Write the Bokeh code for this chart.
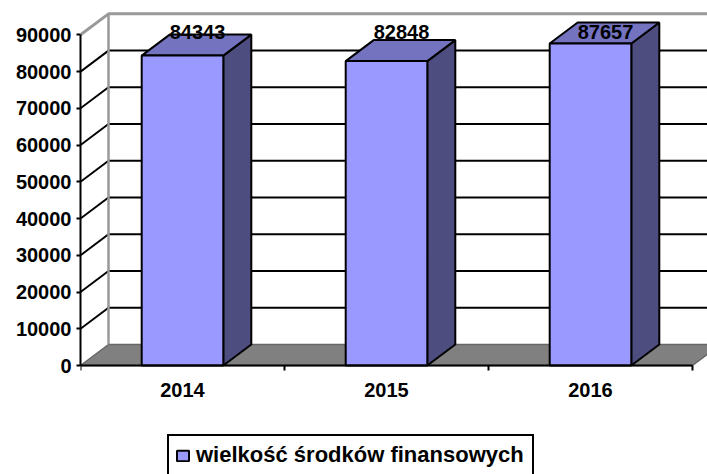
from bokeh.plotting import figure
from bokeh.models import Range1d, FixedTicker, Legend, LegendItem
from bokeh.core.properties import value
from bokeh.embed import file_html
from bokeh.resources import INLINE

# ---- data ----
categories = ["2014", "2015", "2016"]
values = [84343, 82848, 87657]
y_ticks = [0, 10000, 20000, 30000, 40000, 50000, 60000, 70000, 80000, 90000]
series_name = "wielkość środków finansowych"

# ---- style / geometry ----
FONT = "Liberation Sans"
px_per_x = 204.0                 # pixels per category band
px_per_y = 36.74 / 10000.0       # pixels per value unit
depth_dx = 28 / px_per_x         # 3D depth offset in data units
depth_dy = 21 / px_per_y
bar_w = 0.4
front_col = "#9999FF"
top_col = "#7373C0"
side_col = "#4D4D80"
floor_col = "#808080"
wall_edge = "#999999"

W, H = 707, 474
left_b = 80
zero_px = 365                    # pixel row of the value 0 line
frame_w = W - left_b

p = figure(width=W, height=H, output_backend="svg", toolbar_location=None,
           x_range=Range1d(0, frame_w / px_per_x),
           y_range=Range1d(-(H - zero_px) / px_per_y, zero_px / px_per_y),
           min_border_left=left_b, min_border_right=0, min_border_top=0,
           min_border_bottom=0)
p.outline_line_color = None
p.grid.visible = False
p.background_fill_color = "white"
p.border_fill_color = "white"

n = len(categories)
top_v = y_ticks[-1]

# floor
p.patch([0, n, n + depth_dx, depth_dx], [0, 0, depth_dy, depth_dy],
        fill_color=floor_col, line_color="#666666", line_width=1.5)

# back wall gridlines
gx0, gx1, gy = [], [], []
for v in y_ticks[1:-1]:
    gx0.append(depth_dx); gx1.append(n + depth_dx); gy.append(v + depth_dy)
p.segment(x0=gx0, y0=gy, x1=gx1, y1=gy, line_color="black", line_width=2)
# left wall diagonals
p.segment(x0=[0] * (len(y_ticks) - 2), y0=y_ticks[1:-1],
          x1=[depth_dx] * (len(y_ticks) - 2), y1=[v + depth_dy for v in y_ticks[1:-1]],
          line_color="black", line_width=2)
# wall frame edges (gray)
p.line([0, depth_dx, n + depth_dx], [top_v, top_v + depth_dy, top_v + depth_dy],
       line_color=wall_edge, line_width=3)
p.line([depth_dx, depth_dx], [depth_dy, top_v + depth_dy], line_color=wall_edge, line_width=2.5)

# bars
centers = [i + 0.5 for i in range(n)]
side_xs, side_ys, topf_xs, topf_ys = [], [], [], []
for c, v in zip(centers, values):
    r = c + bar_w / 2
    l = c - bar_w / 2
    side_xs.append([r, r + depth_dx, r + depth_dx, r])
    side_ys.append([0, depth_dy, v + depth_dy, v])
    topf_xs.append([l, l + depth_dx, r + depth_dx, r])
    topf_ys.append([v, v + depth_dy, v + depth_dy, v])
p.patches(side_xs, side_ys, fill_color=side_col, line_color="black", line_width=2)
p.patches(topf_xs, topf_ys, fill_color=top_col, line_color="black", line_width=2)
front = p.quad(left=[c - bar_w / 2 for c in centers], right=[c + bar_w / 2 for c in centers],
               bottom=[0] * n, top=values, fill_color=front_col, line_color="black", line_width=2)

# data labels
p.text(x=centers, y=[top_v] * n, text=[str(v) for v in values],
       x_offset=15, y_offset=-3, text_align="center", text_baseline="middle",
       text_font=value(FONT), text_font_style="bold", text_font_size="20px",
       text_color="black")

# axes
p.yaxis.ticker = FixedTicker(ticks=y_ticks)
p.yaxis.bounds = (0, top_v)
p.yaxis.axis_line_color = "black"
p.yaxis.axis_line_width = 2
p.yaxis.major_tick_line_color = "black"
p.yaxis.major_tick_line_width = 2
p.yaxis.major_tick_out = 4
p.yaxis.major_tick_in = 0
p.yaxis.minor_tick_line_color = None
p.yaxis.major_label_standoff = 5
p.yaxis.major_label_text_font = FONT
p.yaxis.major_label_text_font_style = "bold"
p.yaxis.major_label_text_font_size = "20px"
p.yaxis.major_label_text_color = "black"

p.xaxis.fixed_location = 0
p.xaxis.ticker = FixedTicker(ticks=centers, minor_ticks=list(range(n + 1)))
p.xaxis.major_label_overrides = {c: cat for c, cat in zip(centers, categories)}
p.xaxis.bounds = (0, n)
p.xaxis.axis_line_color = "black"
p.xaxis.axis_line_width = 2
p.xaxis.major_tick_line_color = None
p.xaxis.major_tick_out = 0
p.xaxis.major_tick_in = 0
p.xaxis.minor_tick_line_color = "black"
p.xaxis.minor_tick_line_width = 2
p.xaxis.minor_tick_out = 5
p.xaxis.minor_tick_in = 0
p.xaxis.major_label_standoff = 12
p.xaxis.major_label_text_font = FONT
p.xaxis.major_label_text_font_style = "bold"
p.xaxis.major_label_text_font_size = "20px"
p.xaxis.major_label_text_color = "black"

legend = Legend(items=[LegendItem(label=series_name, renderers=[front])],
                location=(87, -2), margin=0, padding=6, spacing=0,
                glyph_width=15, glyph_height=13, label_standoff=6, label_width=330,
                border_line_color="black", border_line_width=2, border_line_alpha=1,
                background_fill_color="white", background_fill_alpha=1,
                label_text_font=FONT, label_text_font_style="bold",
                label_text_font_size="22px", label_text_color="black")
p.add_layout(legend)

open("out.html", "w").write(file_html(p, INLINE))
